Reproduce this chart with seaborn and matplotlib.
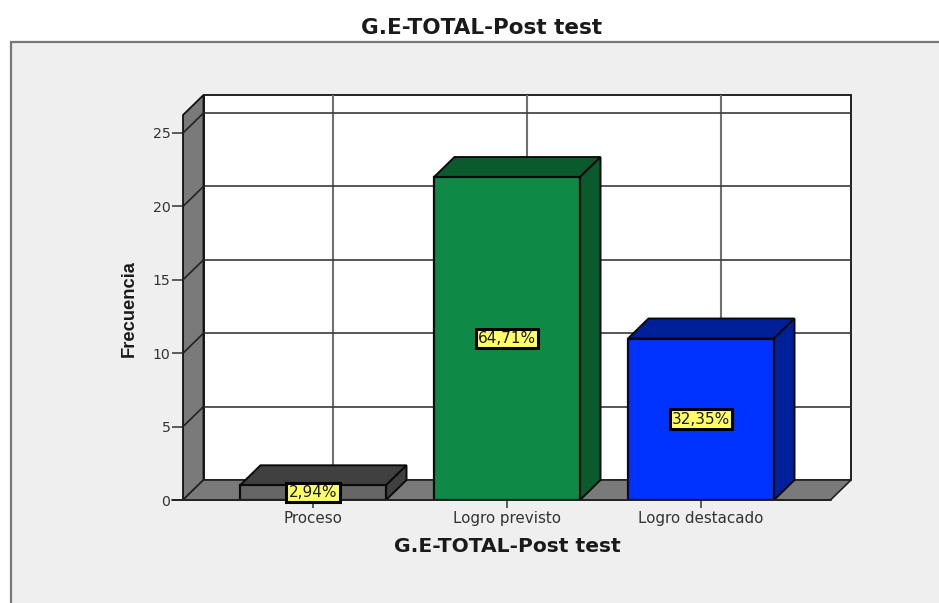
import matplotlib
matplotlib.use("Agg")
import matplotlib.pyplot as plt
from matplotlib.patches import Rectangle
import seaborn as sns

categories = ["Proceso", "Logro previsto", "Logro destacado"]
frequencies = [1, 22, 11]
percent_labels = ["2,94%", "64,71%", "32,35%"]
y_ticks = [0, 5, 10, 15, 20, 25]
title = "G.E-TOTAL-Post test"
y_label = "Frecuencia"

front_colors = ["#666666", "#0F8A46", "#0033FF"]
shade_colors = ["#404040", "#0B5A2E", "#00209A"]

W, H = 939, 603
sns.set_theme(style="white")
plt.rcParams["font.family"] = ["DejaVu Sans"]

fig = plt.figure(figsize=(W / 100, H / 100), dpi=100, facecolor="white")
# outer SPSS panel
fig.add_artist(Rectangle((10.5 / W, 0 - 0.02), 1, 1.02 - 42.5 / H, transform=fig.transFigure,
                         facecolor="#EFEFEF", edgecolor="#777777", linewidth=1.6, zorder=-1))

px_left, px_right, px_base, px_top = 183, 851, 500, 95
ax = fig.add_axes([px_left / W, 1 - px_base / H, (px_right - px_left) / W, (px_base - px_top) / H])
ax.patch.set_alpha(0)

sx, sy = 194.0, 14.68  # pixels per data unit
dx, dy = 20.5 / sx, 20 / sy  # 3-D depth in data units
xmin = (px_left - 313) / sx
xmax = (px_right - 313) / sx
ymax = (px_base - px_top) / sy
x_front_right = xmax - dx
y_wall_top = ymax - dy

bar_w = 146 / sx
sns.barplot(x=categories, y=frequencies, hue=categories, palette=front_colors, legend=False,
            width=bar_w, dodge=False, saturation=1, edgecolor="#0A0A0A", linewidth=1.6, zorder=5, ax=ax)
ax.set_xlim(xmin, xmax)
ax.set_ylim(0, ymax)

# back wall
ax.fill([xmin + dx, xmax, xmax, xmin + dx], [dy, dy, ymax, ymax], facecolor="white",
        edgecolor="#111111", linewidth=1.3, zorder=1, clip_on=False)
for i in range(len(categories)):
    ax.plot([i + 20 / sx, i + 20 / sx], [dy, ymax], color="#707070", lw=1.5, zorder=1.5)
# left wall
ax.fill([xmin, xmin + dx, xmin + dx, xmin], [0, dy, ymax, y_wall_top], facecolor="#7A7A7A",
        edgecolor="#111111", linewidth=1.3, zorder=2, clip_on=False)
# floor
ax.fill([xmin, x_front_right, xmax, xmin + dx], [0, 0, dy, dy], facecolor="#7A7A7A",
        edgecolor="#222222", linewidth=1.2, zorder=2, clip_on=False)
for t in y_ticks[1:]:
    ax.plot([xmin + dx, xmax], [t + dy, t + dy], color="#3A3A3A", lw=1.2, zorder=1.5)
    ax.plot([xmin, xmin + dx], [t, t + dy], color="#222222", lw=1.2, zorder=3, clip_on=False)

# 3-D faces of the bars, labels
for i, (v, shade, lab) in enumerate(zip(frequencies, shade_colors, percent_labels)):
    l, r = i - bar_w / 2, i + bar_w / 2
    ax.fill([l, r, r + dx, l + dx], [v, v, v + dy, v + dy], facecolor=shade,
            edgecolor="#0A0A0A", linewidth=1.4, zorder=4)
    ax.fill([r, r + dx, r + dx, r], [0, dy, v + dy, v], facecolor=shade,
            edgecolor="#0A0A0A", linewidth=1.4, zorder=4)
    ax.text(i, v / 2, lab, ha="center", va="center", fontsize=11, color="#1A1A1A", zorder=8,
            bbox=dict(boxstyle="square,pad=0.15", facecolor="#FFFF66", edgecolor="black", linewidth=2.2))

for s in ["top", "right", "left", "bottom"]:
    ax.spines[s].set_visible(False)
ax.set_yticks(y_ticks)
ax.set_xticks(range(len(categories)))
ax.set_xticklabels(categories)
ax.tick_params(axis="y", left=True, length=8, width=1.1, color="#333333", labelsize=10.2,
               labelcolor="#333333", pad=1)
ax.tick_params(axis="x", bottom=True, length=5.8, width=1.1, color="#333333", labelsize=10.9,
               labelcolor="#333333", pad=2)
ax.plot([xmin - 11 / sx, x_front_right], [0, 0], color="#222222", lw=1.3, zorder=6, clip_on=False)

fig.text(482 / W, 1 - 27.5 / H, title, ha="center", va="center", fontsize=15.5, fontweight="bold", color="#1A1A1A")
fig.text(507 / W, 1 - 547 / H, title, ha="center", va="center", fontsize=14.6, fontweight="bold", color="#1A1A1A")
fig.text(129 / W, 1 - 309 / H, y_label, ha="center", va="center", rotation=90, fontsize=13.2, fontweight="bold",
         color="#1A1A1A", family="Liberation Sans")

fig.savefig("out.png", dpi=100, facecolor="white")
